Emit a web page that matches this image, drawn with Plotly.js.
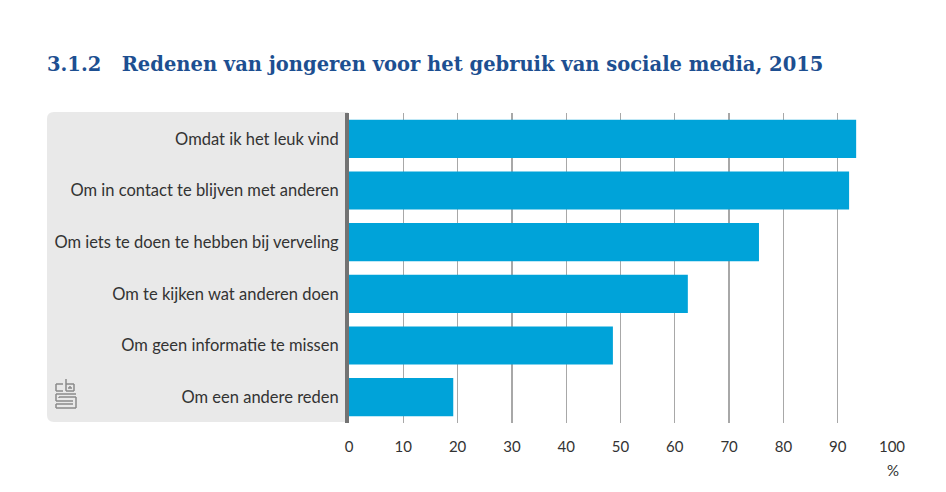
<!DOCTYPE html>
<html><head><meta charset="utf-8">
<script src="https://cdn.plot.ly/plotly-3.0.1.min.js"></script>
<style>html,body{margin:0;padding:0;background:#fff}</style>
</head><body><div id="chart" style="width:946px;height:492px"></div>
<script>
const categories = [
  "Omdat ik het leuk vind",
  "Om in contact te blijven met anderen",
  "Om iets te doen te hebben bij verveling",
  "Om te kijken wat anderen doen",
  "Om geen informatie te missen",
  "Om een andere reden"
];
const values = [93.4, 92.1, 75.5, 62.4, 48.6, 19.2];
const xTicks = [0,10,20,30,40,50,60,70,80,90,100];
const titleText = "3.1.2\u00A0\u00A0 Redenen van jongeren voor het gebruik van sociale media, 2015";

const W = 946, H = 492, L = 349, R = 54, T = 113, B = 69;
const pw = W - L - R, ph = H - T - B;
const px = x => (x - L) / pw;
const py = y => (H - B - y) / ph;

function roundRect(x0, y0, x1, y1, r) {
  const rx = r / pw, ry = r / ph;
  const X0 = px(x0), X1 = px(x1), Y0 = py(y1), Y1 = py(y0);
  return `M ${X0+rx},${Y1} L ${X1},${Y1} L ${X1},${Y0} L ${X0+rx},${Y0} Q ${X0},${Y0} ${X0},${Y0+ry} L ${X0},${Y1-ry} Q ${X0},${Y1} ${X0+rx},${Y1} Z`;
}

const shapes = [
  {type:'path', xref:'paper', yref:'paper', path: roundRect(47, 112, 348, 422, 7),
   fillcolor:'#e9e9e9', line:{width:0}, layer:'below'}
];
const logoLines = [
  [[56,384],[63,384]],[[56,384],[56,391]],[[56,391],[63,391]],
  [[66,379],[66,391]],[[66,384],[74,384]],[[74,384],[74,391]],[[66,391],[74,391]],
  [[69,387],[71,387]],[[69,387],[69,389]],[[71,387],[71,389]],
  [[56,394],[76,394]],[[56,394],[56,401]],[[56,401],[73,401]],
  [[59,397],[76,397]],[[76,397],[76,408]],[[56,408],[76,408]],
  [[56,404],[73,404]],[[56,404],[56,408]],[[59,397],[59,398]]
];
logoLines.forEach(s => shapes.push({type:'line', xref:'paper', yref:'paper',
  x0:px(s[0][0]), y0:py(s[0][1]), x1:px(s[1][0]), y1:py(s[1][1]),
  line:{color:'#8a8a8a', width:1.5}}));

const data = [{
  type:'bar', orientation:'h', y: categories, x: values,
  marker:{color:'#00a3d9', line:{width:0}},
  hoverinfo:'none'
}];

const layout = {
  width: W, height: H,
  margin:{l:L, r:R, t:T, b:B},
  paper_bgcolor:'#fff', plot_bgcolor:'rgba(0,0,0,0)',
  showlegend:false,
  bargap:0.26,
  font:{family:'Lato, sans-serif', color:'#333'},
  title:{text:titleText, x:47/W, xanchor:'left', y:1-64/H, yanchor:'middle',
         font:{family:'"DejaVu Serif", serif', size:19.5, color:'#1d4f91', weight:'bold'}},
  xaxis:{range:[0,100], tickvals:xTicks, ticktext:xTicks.map(String),
         showgrid:true, gridcolor:'#a8a8a8', gridwidth:1.3,
         zeroline:false, showline:false,
         ticks:'outside', ticklen:10, tickcolor:'rgba(0,0,0,0)', tickwidth:1,
         tickfont:{size:15, color:'#333'}, fixedrange:true},
  yaxis:{type:'category', categoryorder:'array', categoryarray:categories.slice().reverse(),
         autorange:false, range:[-0.5, 5.5],
         showline:true, linecolor:'#737373', linewidth:4,
         showgrid:false, zeroline:false, layer:'above traces',
         ticks:'outside', ticklen:3, tickcolor:'rgba(0,0,0,0)',
         tickfont:{size:16.5, color:'#333'}, fixedrange:true},
  shapes: shapes,
  annotations:[{text:'%', xref:'paper', yref:'paper', x:px(893), y:py(470),
                xanchor:'center', yanchor:'middle', showarrow:false,
                font:{size:15, color:'#333'}}]
};
Plotly.newPlot('chart', data, layout, {displayModeBar:false, staticPlot:true});
</script></body></html>
